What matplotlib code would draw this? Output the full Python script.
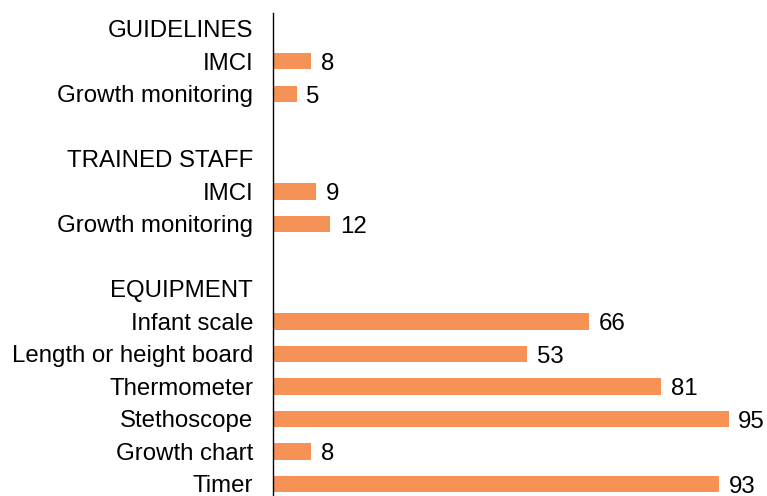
import matplotlib
matplotlib.use("Agg")
import matplotlib.pyplot as plt

plt.rcParams['font.family'] = ['Liberation Sans', 'DejaVu Sans']

# rows from top to bottom; None = group header or empty spacer row
labels = ['GUIDELINES', 'IMCI', 'Growth monitoring', '',
          'TRAINED STAFF', 'IMCI', 'Growth monitoring', '',
          'EQUIPMENT', 'Infant scale', 'Length or height board', 'Thermometer',
          'Stethoscope', 'Growth chart', 'Timer']
values = [None, 8, 5, None,
          None, 9, 12, None,
          None, 66, 53, 81, 95, 8, 93]

bar_color = '#F79257'

fig = plt.figure(figsize=(7.67, 4.96), dpi=100)
ax = fig.add_axes([0.3553, 0.0, 0.6447, 0.974])

rows = list(range(len(labels)))
for r, v in zip(rows, values):
    if v is None:
        continue
    ax.barh(r, v, height=0.5, color=bar_color)
    ax.annotate(str(v), (v, r), xytext=(7, -2), textcoords='offset points',
                ha='left', va='center', fontsize=17.3)

ax.set_xlim(0, 103)
ax.set_ylim(14.37, -0.49)
ax.set_yticks(rows)
ax.set_yticklabels(labels, fontsize=17.3)
ax.tick_params(axis='y', length=0, pad=14)
ax.set_xticks([])
for side in ['top', 'right', 'bottom']:
    ax.spines[side].set_visible(False)
ax.spines['left'].set_linewidth(1.0)
ax.patch.set_alpha(0)

fig.savefig('out.png', dpi=100)
